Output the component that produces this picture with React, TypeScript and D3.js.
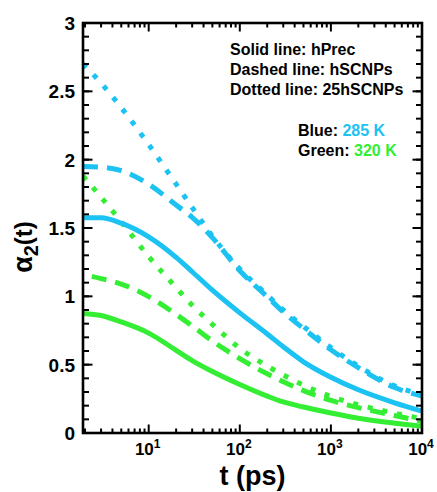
import React from 'react';
import * as d3 from 'd3';

// time grid (ps)
const times = [1.9, 3, 5, 10, 20, 30, 50, 100, 200, 300, 500, 1000, 2000, 5000, 10000];
// series values alpha2(t)
const blueSolid = [1.575, 1.575, 1.535, 1.435, 1.285, 1.18, 1.045, 0.879, 0.725, 0.631, 0.521, 0.408, 0.316, 0.221, 0.16];
const greenSolid = [0.875, 0.86, 0.813, 0.731, 0.605, 0.53, 0.45, 0.355, 0.27, 0.227, 0.19, 0.146, 0.108, 0.072, 0.05];
const blueDashed = [1.95, 1.945, 1.92, 1.82, 1.668, 1.578, 1.43, 1.187, 0.997, 0.886, 0.764, 0.609, 0.478, 0.333, 0.27];
const greenDashed = [1.16, 1.13, 1.09, 0.998, 0.868, 0.783, 0.673, 0.544, 0.433, 0.375, 0.31, 0.238, 0.186, 0.128, 0.085];
const blueDotted = [2.7, 2.56, 2.38, 2.11, 1.821, 1.65, 1.44, 1.2, 1.01, 0.9, 0.78, 0.625, 0.49, 0.345, 0.28];
const greenDotted = [1.88, 1.725, 1.545, 1.29, 1.064, 0.935, 0.795, 0.62, 0.49, 0.425, 0.35, 0.268, 0.207, 0.145, 0.105];

const yTickLabels = ['0', '0.5', '1', '1.5', '2', '2.5', '3'];
const xDecades = [1, 2, 3, 4];
const legendLines = ['Solid line: hPrec', 'Dashed line: hSCNPs', 'Dotted line: 25hSCNPs'];
const tempLabels = [
  { name: 'Blue: ', value: '285 K', color: '#1BC2F2' },
  { name: 'Green: ', value: '320 K', color: '#33EE33' },
];

const BLUE = '#1BC2F2';
const GREEN = '#33EE33';
const FONT = '"Liberation Sans", Arial, Helvetica, sans-serif';

const W = 437;
const H = 492;
const L = 83;
const R = 422;
const T = 23;
const B = 433;

export default function App() {
  const x = d3.scaleLog().domain([1.9, 10000]).range([L, R]);
  const y = d3.scaleLinear().domain([0, 3]).range([B, T]);

  const line = (vals: number[]) =>
    d3
      .line<number>()
      .x((_, i) => x(times[i]))
      .y((v) => y(v))
      .curve(d3.curveMonotoneX)(vals) || '';

  const series = [
    { vals: blueDotted, color: BLUE, dash: '5 10', off: 0 },
    { vals: greenDotted, color: GREEN, dash: '5 10', off: 0 },
    { vals: blueDashed, color: BLUE, dash: '15 9', off: 0 },
    { vals: greenDashed, color: GREEN, dash: '15 9', off: 15 },
    { vals: blueSolid, color: BLUE, dash: undefined, off: 0 },
    { vals: greenSolid, color: GREEN, dash: undefined, off: 0 },
  ];

  // minor x ticks
  const xMinor: number[] = [];
  for (let d = 0; d < 4; d++) {
    for (let k = 2; k <= 9; k++) {
      const t = k * Math.pow(10, d);
      if (t >= 1.9 && t <= 10000) xMinor.push(t);
    }
  }
  const xMajor = xDecades.map((d) => Math.pow(10, d));
  const yMinor = d3.range(0, 31).map((i) => i / 10);
  const yMajor = yTickLabels.map((s) => +s);

  return (
    <svg width={W} height={H} style={{ position: 'absolute', left: 0, top: 0, background: '#fff' }}>
      <defs>
        <clipPath id="plotclip">
          <rect x={L} y={T} width={R - L} height={B - T} />
        </clipPath>
      </defs>
      <rect x={0} y={0} width={W} height={H} fill="#fff" />

      <g clipPath="url(#plotclip)">
        {series.map((s, i) => (
          <path
            key={i}
            d={line(s.vals)}
            fill="none"
            stroke={s.color}
            strokeWidth={5}
            strokeDasharray={s.dash}
            strokeDashoffset={s.off}
          />
        ))}
      </g>

      {/* ticks */}
      <g stroke="#000" strokeWidth={2}>
        {xMinor.map((t, i) => (
          <g key={'xm' + i}>
            <line x1={x(t)} x2={x(t)} y1={B} y2={B - 4.5} />
            <line x1={x(t)} x2={x(t)} y1={T} y2={T + 4.5} />
          </g>
        ))}
        {xMajor.map((t, i) => (
          <g key={'xM' + i}>
            <line x1={x(t)} x2={x(t)} y1={B} y2={B - 8.5} />
            <line x1={x(t)} x2={x(t)} y1={T} y2={T + 8.5} />
          </g>
        ))}
        {yMinor.map((v, i) => (
          <g key={'ym' + i}>
            <line x1={L} x2={L + 6} y1={y(v)} y2={y(v)} />
            <line x1={R} x2={R - 6} y1={y(v)} y2={y(v)} />
          </g>
        ))}
        {yMajor.map((v, i) => (
          <g key={'yM' + i}>
            <line x1={L} x2={L + 9.5} y1={y(v)} y2={y(v)} />
            <line x1={R} x2={R - 9.5} y1={y(v)} y2={y(v)} />
          </g>
        ))}
      </g>

      <rect x={L} y={T} width={R - L} height={B - T} fill="none" stroke="#000" strokeWidth={2.6} />

      {/* y tick labels */}
      <g fontFamily={FONT} fontWeight="bold" fontSize={19} fill="#000" textAnchor="end">
        {yTickLabels.map((s, i) => (
          <text key={i} x={L - 8} y={y(+s) + 7}>
            {s}
          </text>
        ))}
      </g>

      {/* x tick labels */}
      <g fontFamily={FONT} fontWeight="bold" fill="#000" textAnchor="middle">
        {xDecades.map((d, i) => (
          <text key={i} x={x(Math.pow(10, d)) - 1} y={455} fontSize={17}>
            10
            <tspan fontSize={12} dy={-7}>
              {d}
            </tspan>
          </text>
        ))}
      </g>

      {/* axis titles */}
      <text x={(L + R) / 2} y={485} textAnchor="middle" fontFamily={FONT} fontWeight="bold" fontSize={27} fill="#000">
        t (ps)
      </text>
      <text
        transform={`translate(32, 247) rotate(-90)`}
        textAnchor="middle"
        fontFamily={FONT}
        fontWeight="bold"
        fill="#000"
        fontSize={24}
      >
        <tspan fontSize={27}>α</tspan>
        <tspan fontSize={20} dy={6}>2</tspan>
        <tspan dy={-6}>(t)</tspan>
      </text>

      {/* legend */}
      <g fontFamily={FONT} fontWeight="bold" fontSize={16} fill="#000">
        {legendLines.map((s, i) => (
          <text key={i} x={230} y={55 + i * 20}>
            {s}
          </text>
        ))}
        {tempLabels.map((tl, i) => (
          <text key={'t' + i} x={298} y={135.5 + i * 20}>
            {tl.name}
            <tspan fill={tl.color}>{tl.value}</tspan>
          </text>
        ))}
      </g>
    </svg>
  );
}
